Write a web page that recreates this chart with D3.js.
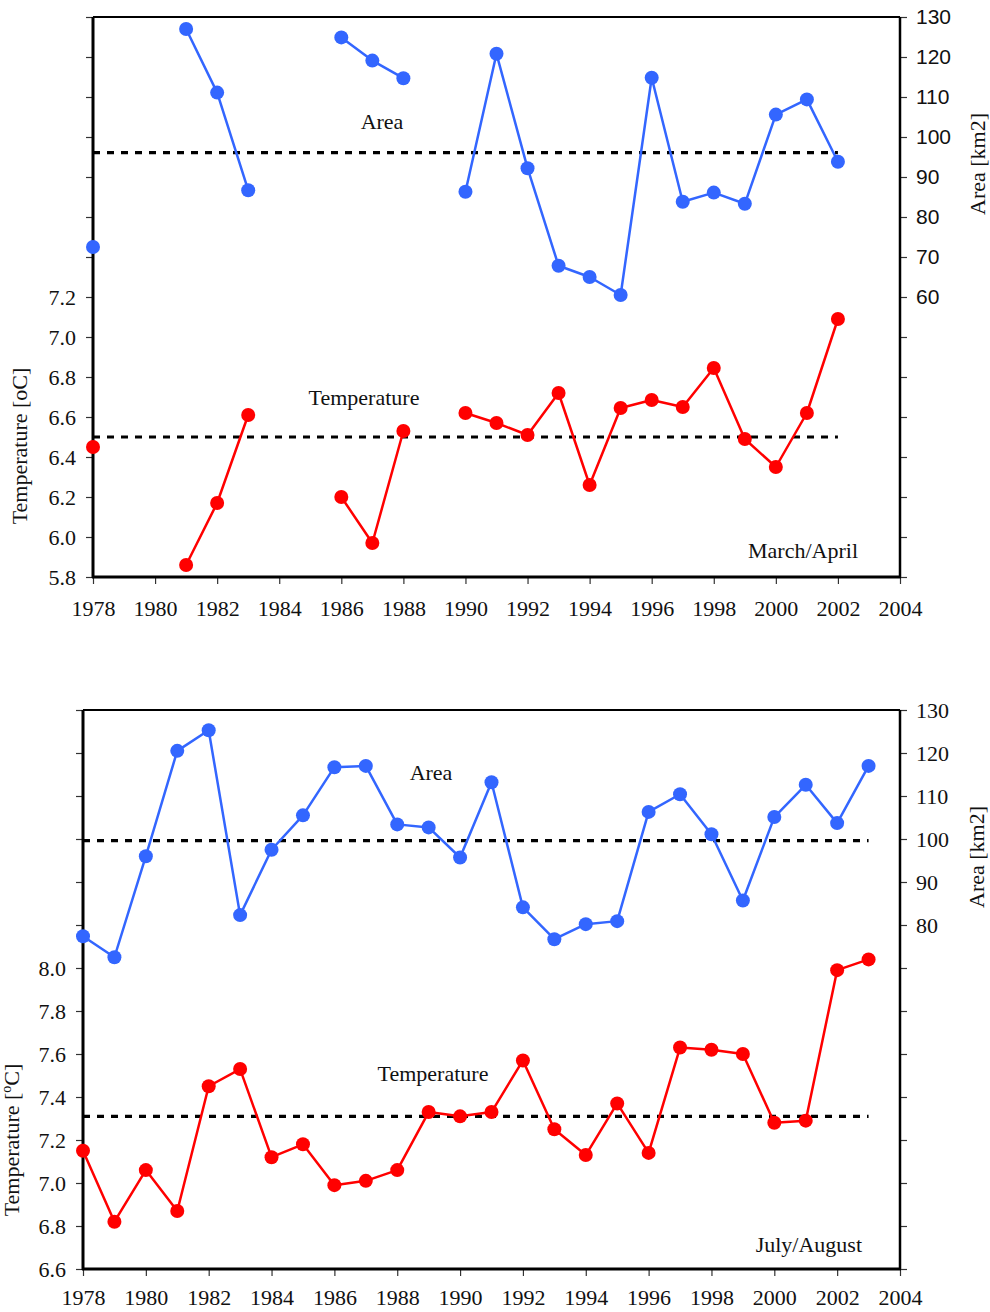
<!DOCTYPE html>
<html>
<head>
<meta charset="utf-8">
<script src="https://cdn.jsdelivr.net/npm/d3@7"></script>
<style>
  html, body { margin: 0; padding: 0; background: #fff; }
  svg { display: block; }
</style>
</head>
<body>
<svg id="chart" width="990" height="1312"></svg>
<script>
// ---------------- DATA ----------------
const years = d3.range(1978, 2004); // 1978..2003

// March/April panel (1978..2002)
const maArea = [72.5, null, null, 127.0, 111.1, 86.7, null, null, 124.9, 119.1, 114.7, null,
                86.3, 120.8, 92.2, 67.8, 65.0, 60.5, 114.8, 83.8, 86.1, 83.3, 105.6, 109.4, 93.8];
const maTemp = [6.45, null, null, 5.86, 6.17, 6.61, null, null, 6.20, 5.97, 6.53, null,
                6.62, 6.57, 6.51, 6.72, 6.26, 6.645, 6.685, 6.65, 6.845, 6.49, 6.35, 6.62, 7.09];
const maAreaMean = 96.1;
const maTempMean = 6.5;

// July/August panel (1978..2003)
const jaArea = [77.4, 72.5, 96.0, 120.5, 125.3, 82.3, 97.5, 105.5, 116.7, 117.0, 103.4, 102.7,
                95.7, 113.2, 84.1, 76.7, 80.2, 80.9, 106.3, 110.4, 101.1, 85.7, 105.1, 112.6, 103.7, 117.0];
const jaTemp = [7.15, 6.82, 7.06, 6.87, 7.45, 7.53, 7.12, 7.18, 6.99, 7.01, 7.06, 7.33,
                7.31, 7.33, 7.57, 7.25, 7.13, 7.37, 7.14, 7.63, 7.62, 7.60, 7.28, 7.29, 7.99, 8.04];
const jaAreaMean = 99.6;
const jaTempMean = 7.31;

// Tick labels
const xTickYears = d3.range(1978, 2005, 2);
const maTempTickLabels = [5.8, 6.0, 6.2, 6.4, 6.6, 6.8, 7.0, 7.2];
const maAreaTickLabels = [60, 70, 80, 90, 100, 110, 120, 130];
const jaTempTickLabels = [6.6, 6.8, 7.0, 7.2, 7.4, 7.6, 7.8, 8.0];
const jaAreaTickLabels = [80, 90, 100, 110, 120, 130];

// ---------------- STYLE ----------------
const BLUE = "#3366ff";
const RED = "#ff0000";
const SERIF = "'Liberation Serif', 'Times New Roman', serif";
const SANS = "'Liberation Sans', Arial, sans-serif";
const FS = 22;

const svg = d3.select("#chart");

function drawPanel(cfg) {
  const g = svg.append("g");
  const x = d3.scaleLinear().domain([1978, 2004]).range([cfg.left, cfg.right]);
  const yT = d3.scaleLinear().domain(cfg.tempDomain).range([cfg.bottom, cfg.top]);
  const yA = d3.scaleLinear().domain(cfg.areaDomain).range([cfg.bottom, cfg.top]);

  const nT = Math.round((cfg.tempDomain[1] - cfg.tempDomain[0]) / 0.2);
  const tempTicks = d3.range(nT + 1).map(i => +(cfg.tempDomain[0] + i * 0.2).toFixed(1));
  const nA = Math.round((cfg.areaDomain[1] - cfg.areaDomain[0]) / 10);
  const areaTicks = d3.range(nA + 1).map(i => cfg.areaDomain[0] + i * 10);

  const tempLabelSet = new Set(cfg.tempLabels.map(v => v.toFixed(1)));
  const areaLabelSet = new Set(cfg.areaLabels.map(v => String(v)));

  // Left axis
  const leftAxis = d3.axisLeft(yT).tickValues(tempTicks).tickSize(7).tickPadding(10)
    .tickFormat(d => tempLabelSet.has(d.toFixed(1)) ? d.toFixed(1) : "");
  const la = g.append("g").attr("transform", `translate(${cfg.left},0)`).call(leftAxis);
  la.select(".domain").remove();
  la.selectAll(".tick line").attr("stroke", "#333").attr("stroke-width", 1.2);
  la.selectAll(".tick text").attr("font-family", SERIF).attr("font-size", FS).attr("fill", "#111");

  // Right axis
  const rightAxis = d3.axisRight(yA).tickValues(areaTicks).tickSize(7).tickPadding(9)
    .tickFormat(d => areaLabelSet.has(String(d)) ? String(d) : "");
  const ra = g.append("g").attr("transform", `translate(${cfg.right},0)`).call(rightAxis);
  ra.select(".domain").remove();
  ra.selectAll(".tick line").attr("stroke", "#333").attr("stroke-width", 1.2);
  ra.selectAll(".tick text").attr("font-family", cfg.rightFont).attr("font-size", cfg.rightFS).attr("fill", "#111");

  // Bottom axis
  const bottomAxis = d3.axisBottom(x).tickValues(xTickYears).tickSize(7).tickPadding(cfg.xPad)
    .tickFormat(d3.format("d"));
  const ba = g.append("g").attr("transform", `translate(0,${cfg.bottom})`).call(bottomAxis);
  ba.select(".domain").remove();
  ba.selectAll(".tick line").attr("stroke", "#333").attr("stroke-width", 1.2);
  ba.selectAll(".tick text").attr("font-family", SERIF).attr("font-size", FS).attr("fill", "#111");

  // Frame
  g.append("line").attr("x1", cfg.left).attr("x2", cfg.right).attr("y1", cfg.top).attr("y2", cfg.top)
    .attr("stroke", "#000").attr("stroke-width", 2);
  g.append("line").attr("x1", cfg.right).attr("x2", cfg.right).attr("y1", cfg.top).attr("y2", cfg.bottom)
    .attr("stroke", "#000").attr("stroke-width", 2.5);
  g.append("line").attr("x1", cfg.left).attr("x2", cfg.left).attr("y1", cfg.top).attr("y2", cfg.bottom + 1)
    .attr("stroke", "#000").attr("stroke-width", 3);
  g.append("line").attr("x1", cfg.left - 1).attr("x2", cfg.right + 1).attr("y1", cfg.bottom).attr("y2", cfg.bottom)
    .attr("stroke", "#000").attr("stroke-width", 3);

  // Mean lines
  g.append("line").attr("x1", x(1978)).attr("x2", x(cfg.meanEnd))
    .attr("y1", yA(cfg.areaMean)).attr("y2", yA(cfg.areaMean))
    .attr("stroke", "#000").attr("stroke-width", 3.2).attr("stroke-dasharray", "7,7");
  g.append("line").attr("x1", x(1978)).attr("x2", x(cfg.meanEnd))
    .attr("y1", yT(cfg.tempMean)).attr("y2", yT(cfg.tempMean))
    .attr("stroke", "#000").attr("stroke-width", 3.2).attr("stroke-dasharray", "7,7");

  // Series
  function series(values, yScale, color) {
    const pts = values.map((v, i) => ({ year: years[i], v }));
    const line = d3.line().defined(d => d.v != null).x(d => x(d.year)).y(d => yScale(d.v));
    g.append("path").datum(pts).attr("d", line).attr("fill", "none")
      .attr("stroke", color).attr("stroke-width", 2.5).attr("stroke-linejoin", "round");
    g.selectAll(null).data(pts.filter(d => d.v != null)).enter().append("circle")
      .attr("cx", d => x(d.year)).attr("cy", d => yScale(d.v)).attr("r", 7).attr("fill", color);
  }
  series(cfg.area, yA, BLUE);
  series(cfg.temp, yT, RED);

  // Annotations
  const t = (px, py, str, anchor) => g.append("text").attr("x", px).attr("y", py)
    .attr("text-anchor", anchor).attr("font-family", SERIF).attr("font-size", FS).attr("fill", "#111").text(str);
  t(cfg.areaLabel[0], cfg.areaLabel[1], "Area", "middle");
  t(cfg.tempLabel[0], cfg.tempLabel[1], "Temperature", "middle");
  t(cfg.seasonLabel[0], cfg.seasonLabel[1], cfg.season, "end");

  // Axis titles
  const lt = g.append("text")
    .attr("transform", `translate(${cfg.leftTitle[0]},${cfg.leftTitle[1]}) rotate(-90)`)
    .attr("text-anchor", "middle").attr("font-family", SERIF).attr("font-size", FS).attr("fill", "#111");
  if (cfg.superO) {
    lt.append("tspan").text("Temperature [");
    lt.append("tspan").attr("dy", -8).attr("font-size", 14).text("o");
    lt.append("tspan").attr("dy", 8).text("C]");
  } else {
    lt.text("Temperature [oC]");
  }
  g.append("text")
    .attr("transform", `translate(${cfg.rightTitle[0]},${cfg.rightTitle[1]}) rotate(-90)`)
    .attr("text-anchor", "middle").attr("font-family", SERIF).attr("font-size", FS).attr("fill", "#111")
    .text("Area [km2]");
}

drawPanel({
  left: 93, right: 900, top: 17, bottom: 577, xPad: 16,
  tempDomain: [5.8, 8.6], areaDomain: [-10, 130],
  tempLabels: maTempTickLabels, areaLabels: maAreaTickLabels,
  rightFont: SANS, rightFS: 21,
  area: maArea, temp: maTemp, areaMean: maAreaMean, tempMean: maTempMean, meanEnd: 2002,
  areaLabel: [382, 129], tempLabel: [364, 405], seasonLabel: [858, 558], season: "March/April",
  leftTitle: [27, 446], rightTitle: [985, 164], superO: false
});

drawPanel({
  left: 83, right: 900, top: 710, bottom: 1269, xPad: 13,
  tempDomain: [6.6, 9.2], areaDomain: [0, 130],
  tempLabels: jaTempTickLabels, areaLabels: jaAreaTickLabels,
  rightFont: SERIF, rightFS: 22,
  area: jaArea, temp: jaTemp, areaMean: jaAreaMean, tempMean: jaTempMean, meanEnd: 2003,
  areaLabel: [431, 780], tempLabel: [433, 1081], seasonLabel: [862, 1252], season: "July/August",
  leftTitle: [19, 1140], rightTitle: [984, 857], superO: true
});
</script>
</body>
</html>
